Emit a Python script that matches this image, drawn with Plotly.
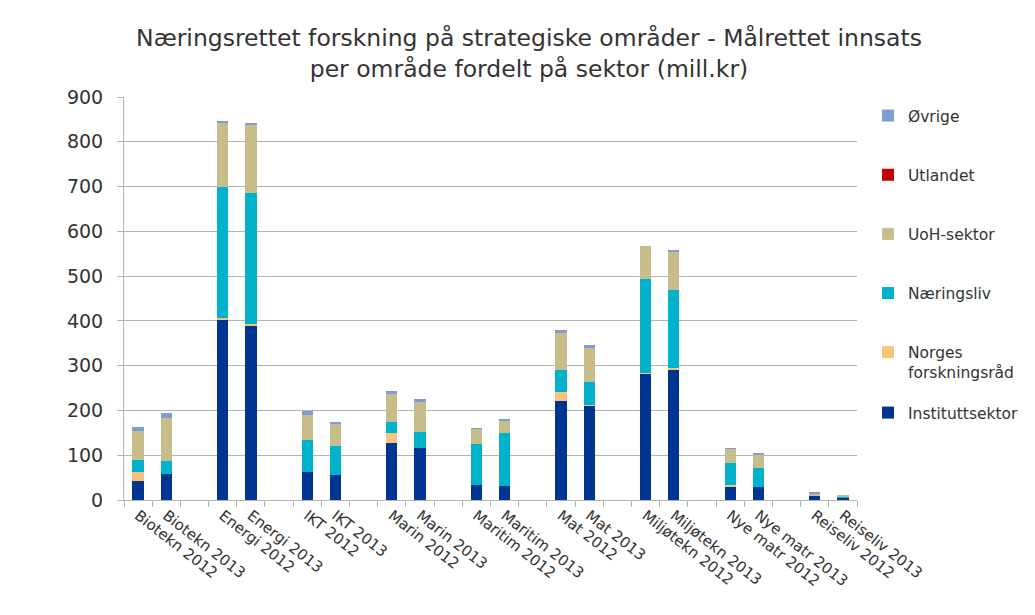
import plotly.graph_objects as go

# ---- data ----
categories = ["Biotekn 2012", "Biotekn 2013", "Energi 2012", "Energi 2013",
              "IKT 2012", "IKT 2013", "Marin 2012", "Marin 2013",
              "Maritim 2012", "Maritim 2013", "Mat 2012", "Mat 2013",
              "Miljøtekn 2012", "Miljøtekn 2013", "Nye matr 2012", "Nye matr 2013",
              "Reiseliv 2012", "Reiseliv 2013"]

instituttsektor = [42, 57, 403, 390, 62, 55, 128, 117, 33, 32, 221, 210, 282, 292, 31, 28, 9, 5]
forskningsrad   = [21, 0, 4, 2, 0, 0, 21, 0, 0, 0, 20, 2, 2, 2, 2, 0, 0, 0]
naeringsliv     = [26, 30, 291, 294, 71, 65, 26, 35, 93, 117, 49, 52, 209, 176, 50, 43, 1, 1]
uoh_sektor      = [66, 97, 146, 151, 57, 51, 61, 66, 33, 29, 83, 75, 75, 84, 31, 31, 4, 5]
utlandet        = [0, 0, 0, 0, 0, 0, 0, 0, 0, 0, 0, 0, 0, 0, 0, 0, 0, 0]
ovrige          = [7, 10, 2, 5, 9, 4, 8, 7, 1, 2, 7, 7, 0, 4, 1, 1, 2, 0]

series = [
    ("Instituttsektor", instituttsektor, "#003591"),
    ("Norges<br>forskningsråd", forskningsrad, "#F9C27B"),
    ("Næringsliv", naeringsliv, "#00B2CC"),
    ("UoH-sektor", uoh_sektor, "#C6BD8A"),
    ("Utlandet", utlandet, "#C00000"),
    ("Øvrige", ovrige, "#7B9ED6"),
]

# insert an empty spacer category between each pair of areas
x_full = []
idx_map = []
spacer = 0
for i, c in enumerate(categories):
    if i > 0 and i % 2 == 0:
        spacer += 1
        x_full.append(" " * spacer)
        idx_map.append(None)
    x_full.append(c)
    idx_map.append(i)

def expand(vals):
    return [None if j is None else vals[j] for j in idx_map]

fig = go.Figure()
n = len(series)
for k, (name, vals, color) in enumerate(series):
    fig.add_trace(go.Bar(
        x=x_full, y=expand(vals), name=name, legendgroup=name,
        legendrank=n - k,
        legend="legend2" if k == 0 else "legend",
        marker=dict(color=color, line=dict(width=0)),
    ))

W, H = 1100, 607
grid = "#B4B4B4"
txt = "#333333"
legend_common = dict(
    x=1.015, xanchor="left", yanchor="top",
    traceorder="grouped", tracegroupgap=36,
    font=dict(size=15.5, color=txt),
    itemwidth=30, maxheight=560, valign="top",
    bgcolor="rgba(0,0,0,0)",
)
fig.update_layout(
    barmode="stack",
    bargap=0.6,
    width=W, height=H,
    margin=dict(l=116, r=W - 849, t=89, b=H - 492),
    paper_bgcolor="white", plot_bgcolor="white",
    font=dict(family="DejaVu Sans", color=txt, size=15),
    title=dict(
        text="Næringsrettet forskning på strategiske områder - Målrettet innsats<br>per område fordelt på sektor (mill.kr)",
        x=521 / W, xanchor="center", xref="container",
        y=1 - 38 / H, yanchor="middle", yref="container",
        font=dict(size=23.5, color=txt, family="DejaVu Sans"),
    ),
    legend=dict(y=0.995, **legend_common),
    legend2=dict(y=0.258, **legend_common),
    showlegend=True,
)
fig.update_xaxes(
    type="category", categoryorder="array", categoryarray=x_full,
    tickangle=38, tickfont=dict(size=15, color=txt),
    showline=True, linecolor=grid, linewidth=1,
    ticks="outside", tickson="boundaries", ticklen=6, tickcolor=grid,
    showgrid=False,
)
fig.update_yaxes(
    range=[0, 900], dtick=100,
    tickfont=dict(size=19, color=txt),
    showgrid=True, gridcolor=grid, gridwidth=1,
    showline=True, linecolor=grid, linewidth=1,
    ticks="outside", ticklen=6, tickcolor=grid,
    ticklabelstandoff=10,
    zeroline=False,
)

fig.write_html("out.html")
